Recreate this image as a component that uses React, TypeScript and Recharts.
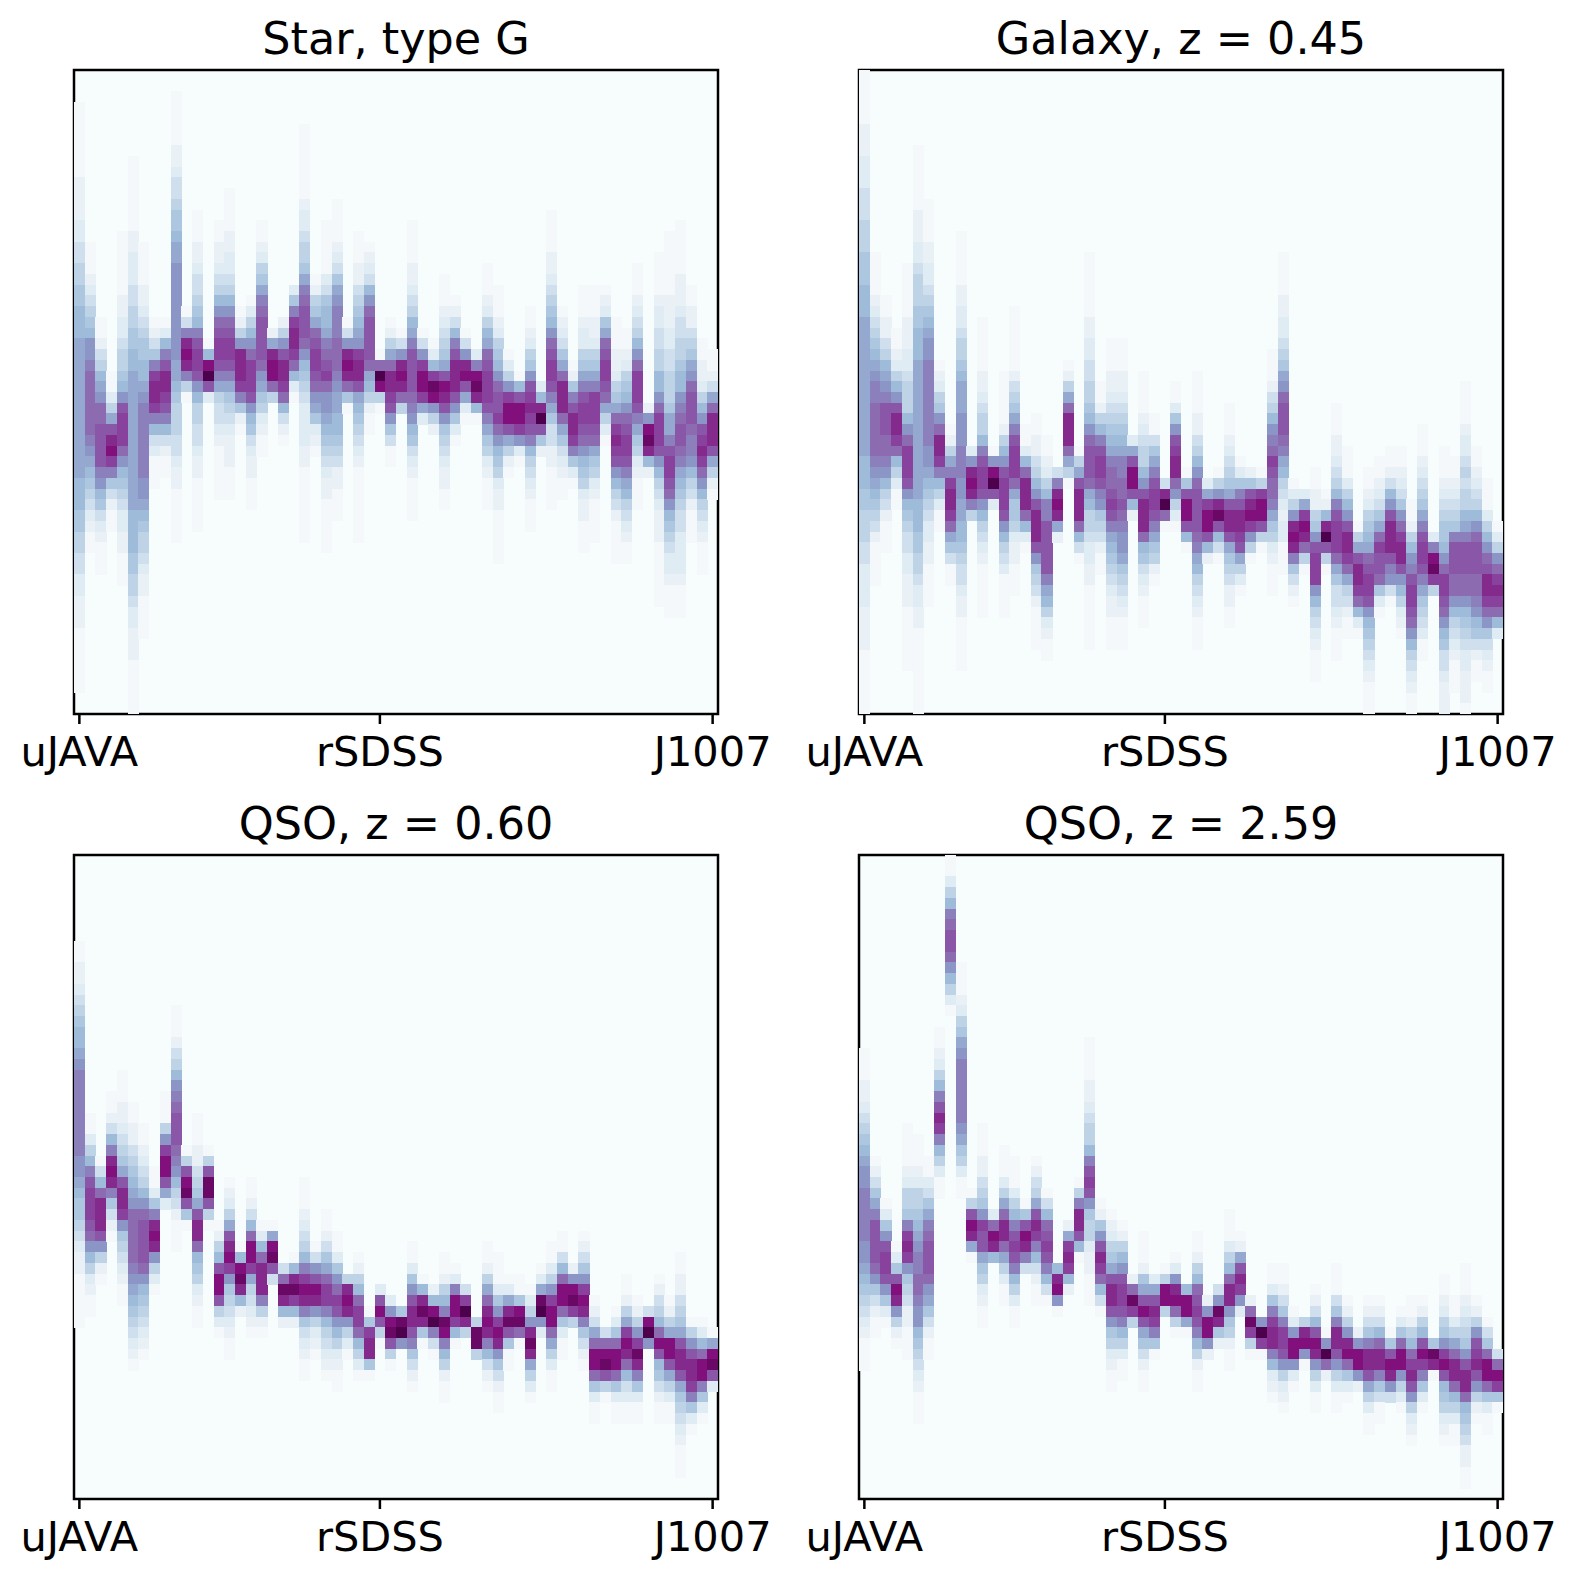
import { CartesianGrid, ReferenceArea, Scatter, ScatterChart, XAxis, YAxis } from "recharts";

type Col = [number, string];

// BuPu shades, index = digit used in the column strings below (base 18)
const shades = [
  "#f7fcfd", "#f4f8fb", "#e9f1f7", "#e0ecf4", "#d0dfed", "#bfd3e6", "#aec7e0", "#9ebcda", "#95a9d0",
  "#8c96c6", "#8c80bc", "#8c6bb1", "#8a56a7", "#88419d", "#842a8d", "#810f7c", "#6a0865", "#4d004b",
];

const tickValues = [0, 28, 59];
const tickNames = ["uJAVA", "rSDSS", "J1007"];

// each column: first non-empty row (from the top), then the shade of each row going down
const starG: Col[] = [
  [3, "1111111222233445566777888888888888877766554433222111111"],
  [16, "11123456799abbbbbba9876543211"],
  [23, "11245789bbcccca976432111"],
  [28, "11358cefda64211"],
  [15, "1111112233455679cdddb976543322111"],
  [8, "1111111223334455667788888888888887777665543322211111"],
  [16, "111122345667789aaaaaaa998765543221111"],
  [23, "1246adeeda743111"],
  [23, "137aceedca74211"],
  [2, "111112234456678899999999988765554432211111"],
  [22, "14aefea51"],
  [13, "11122344567acddc97554432211111"],
  [25, "17fhc3"],
  [14, "112234579bcddca85443211111"],
  [11, "111122334579bcddca86543222111"],
  [22, "1259eeeda621"],
  [21, "13579bdddc9764322111"],
  [14, "1123568abccccb98653211"],
  [24, "28effb5"],
  [23, "259ceedb7421"],
  [20, "36adeedb731"],
  [5, "111111123345568abcccb976543333221111111"],
  [19, "12568bcddcb986321"],
  [14, "11111346778abcdb998765432211111"],
  [12, "1111234689aaabbba9887765422111"],
  [23, "149efeb61"],
  [15, "11122456789deec87654321111111"],
  [16, "123479bccccb875211"],
  [26, "1bhf51"],
  [23, "1258beedc96411"],
  [24, "149efeb5"],
  [14, "11112234578accccba9764321111"],
  [24, "149dffd83"],
  [25, "137dgf952"],
  [19, "111234568cfec965432211"],
  [21, "1247aceeec9631"],
  [24, "149efc831"],
  [26, "3afge71"],
  [18, "11123578bcdddca86532111"],
  [20, "111235679bccdb976532211111"],
  [26, "1359dffc8521"],
  [28, "17cffd931"],
  [22, "1123569cdedca75432111"],
  [29, "37ehc62"],
  [13, "111122345679bcddca8644221111"],
  [22, "123468beeeb8643211"],
  [27, "126aceeda631"],
  [20, "111233568acddcb9765322111"],
  [20, "111223568adddcb865321111"],
  [20, "12368bcddcb8531"],
  [23, "111223568bdedc975421111"],
  [24, "11235679bcddca87543211"],
  [18, "111234579bdddca86532111"],
  [31, "29fge72"],
  [17, "11112334455779bdddc97543222111111"],
  [15, "1111112223344555688acddcb97654332111"],
  [14, "11111222344556779abccba87654433332111"],
  [20, "112245689bcccbaa97542111"],
  [25, "11223579cdedb975432111"],
  [26, "11248beeec8521"],
];

const galaxy: Col[] = [
  [0, "111112223334445556667778888888888888777665554433332222111111"],
  [17, "111123456789aabbbbba98765421111"],
  [21, "112245789acccbba97542111"],
  [24, "1123579ceedb75311"],
  [18, "1111122233455579bdddc97654433222111111"],
  [7, "11111122233455566777888888888888877766554332211111111"],
  [12, "111122334567899aaaaaaaa998765433221111"],
  [27, "123569beeda75311"],
  [33, "1258adeedb86411"],
  [15, "11111223345567888999aaa998877654432211111"],
  [35, "39efea5"],
  [23, "111112234557acddc97543211111"],
  [35, "19fhc3"],
  [28, "111112579cdddc975431111"],
  [22, "11111124568acdddb8665322111"],
  [33, "1137beeeb731"],
  [32, "11224579ceeec965421111"],
  [34, "112357aaccccca8753211"],
  [37, "4aefe82"],
  [27, "1258beeeb851"],
  [35, "158ceeeb741"],
  [17, "11111122334455679bcccb875543322111111"],
  [29, "11257acddca9654211"],
  [25, "11122345678abbcdca87654322111"],
  [25, "11122345678aabbcba99865432111"],
  [34, "38cffc72"],
  [28, "11112345579ceeeb76432111"],
  [32, "11468acddca86521"],
  [38, "4ehb1"],
  [29, "11369cdeeb9531"],
  [37, "16cffc71"],
  [28, "1111224579bccccba875432111"],
  [38, "38dffc72"],
  [37, "159egc741"],
  [31, "111234568ceec86542211"],
  [36, "136aceedc8531"],
  [37, "26cefd951"],
  [37, "15dffc51"],
  [26, "11124579abdcbba86532111"],
  [17, "1111223345689bcccba87543233111"],
  [38, "1359efea6421"],
  [39, "38dfeb51"],
  [37, "1122569cddd975432111"],
  [39, "127ehc51"],
  [31, "111223457acdddb864432111"],
  [35, "1113579ceedb854211"],
  [42, "158ceedb731"],
  [37, "11235678bcddc9765432111"],
  [36, "1123468bdccb631"],
  [35, "112479ceeeca941"],
  [35, "1123469bdeec975321"],
  [40, "112579acddcb97543211"],
  [33, "111234568acddca8654311"],
  [43, "3afgd5"],
  [35, "11123456679bddcb976443222"],
  [36, "1123456acccbb975432111"],
  [29, "11112334545578acccbb97654332221"],
  [35, "11234579bcccbba9764211"],
  [38, "1113579bceedb9643211"],
  [42, "1359bdedb73"],
];

const qso060: Col[] = [
  [8, "112234567789aaaaaaaa9987665432211111"],
  [24, "11357acdddcb9753211"],
  [28, "147beeec9521"],
  [22, "11247aefea6421"],
  [20, "1112234568ceed96543211"],
  [23, "1122456789bbbbba987654321"],
  [25, "11234579bccccb97654321"],
  [29, "1136aefe9531"],
  [22, "11159dffc83"],
  [14, "11124579abcccba97542111"],
  [27, "15cfgc61"],
  [24, "111224568ceeb7653211"],
  [27, "15cggc51"],
  [34, "1257cffc531"],
  [30, "12358cefd96543211"],
  [36, "17fge72"],
  [30, "11247bffd854321"],
  [34, "137beeea521"],
  [34, "18fgc4"],
  [38, "4bge72"],
  [37, "17egd72"],
  [30, "11123457adfea643211"],
  [36, "149cfe95321"],
  [33, "112468bdda754321"],
  [35, "11369bdc9753211"],
  [39, "5efe9531"],
  [37, "1257bddb7531"],
  [42, "16dee61"],
  [40, "3cfc51"],
  [41, "39fgc51"],
  [42, "6gh9"],
  [36, "11369ceeca6421"],
  [39, "17ege61"],
  [40, "27fha41"],
  [37, "11257agfa75211"],
  [38, "13affd71"],
  [40, "4dhe5"],
  [43, "5gg5"],
  [36, "11258befea7421"],
  [37, "111369dfe964211"],
  [39, "138egc611"],
  [39, "116fgb1"],
  [40, "1359ege8531"],
  [38, "138gh93"],
  [36, "11359dffb85311"],
  [35, "1147bffb6311"],
  [38, "29fgd5"],
  [35, "12469dfea6421"],
  [41, "1248bffb6311"],
  [44, "4bfgc51"],
  [42, "136bffb6311"],
  [39, "11258dfeb74311"],
  [41, "1259dgea6311"],
  [42, "4fh9"],
  [39, "12457bfc764211"],
  [41, "1258ffc85311"],
  [37, "11224568ceec865432111"],
  [43, "159ceeda631"],
  [43, "137bffa631"],
  [44, "18fgc3"],
];

const qso259: Col[] = [
  [18, "1112234567899aaaaa998765432111"],
  [28, "12468accccb964211"],
  [32, "1369cddc9631"],
  [36, "136cfe9521"],
  [25, "111123556aded965422111"],
  [26, "11123556789aabba99765432111"],
  [28, "113468abcccb9864211"],
  [16, "112357aceda75311"],
  [0, "11357abccb97531"],
  [10, "111235689aaaaaa9865311"],
  [31, "15cfe81"],
  [25, "111224569dcc8653211"],
  [33, "3bfe7"],
  [27, "111358beeb85311"],
  [28, "111357acdca75311"],
  [32, "16cfea4"],
  [28, "12458ceda74211"],
  [31, "147bcdca741"],
  [38, "7ef91"],
  [34, "28ded72"],
  [30, "15aeec71"],
  [17, "11112234557acdc9655322111"],
  [32, "1269cedb741"],
  [33, "123568ceec9653211"],
  [34, "12579cddca75311"],
  [39, "2bgd5"],
  [35, "111268cfc864211"],
  [39, "38ceda61"],
  [38, "15ff5"],
  [37, "139efb51"],
  [40, "7ff81"],
  [35, "11257bcdca75211"],
  [41, "29ff92"],
  [40, "49ge62"],
  [33, "111357bee965211"],
  [35, "128ced93"],
  [41, "2bgd51"],
  [43, "9hd1"],
  [38, "1136adeea7321"],
  [38, "11246addc95321"],
  [42, "139ff931"],
  [43, "5ef91"],
  [40, "1247cfe95311"],
  [44, "19hb2"],
  [38, "11146aeec95311"],
  [41, "1259efb631"],
  [44, "29ff92"],
  [41, "1246aeec85311"],
  [41, "1247beea6411"],
  [44, "16cfe94"],
  [42, "136bff9531"],
  [41, "11257bdec95321"],
  [41, "1257cfda631"],
  [45, "6ge1"],
  [39, "1123569dfc765321"],
  [41, "11358beeb75311"],
  [38, "111234569ceeb76542211"],
  [41, "1259cdec9521"],
  [43, "146bffb6311"],
  [46, "4bfd61"],
];

const CELL = 644 / 60;

const toCells = (cols: Col[]) =>
  cols.flatMap(([start, run], x) => [...run].map((ch, i) => ({ x, y: start + i, v: parseInt(ch, 18) })));

const HeatCell = (props: any) => (
  <rect
    x={props.cx - CELL / 2}
    y={props.cy - CELL / 2}
    width={CELL + 0.3}
    height={CELL + 0.3}
    fill={shades[props.payload.v]}
    shapeRendering="crispEdges"
  />
);

const font = "DejaVu Sans";

function Panel({ title, cols, left, top }: { title: string; cols: Col[]; left: number; top: number }) {
  return (
    <div style={{ position: "absolute", left, top }}>
      <ScatterChart width={785} height={785} margin={{ left: 74, top: 70, right: 67, bottom: 0 }}>
        <CartesianGrid horizontal={false} vertical={false} fill={shades[0]} />
        <XAxis
          type="number"
          dataKey="x"
          domain={[-0.5, 59.5]}
          ticks={tickValues}
          interval={0}
          allowDataOverflow
          height={71}
          tickSize={10}
          tickMargin={13}
          tickFormatter={(v: number) => tickNames[tickValues.indexOf(v)]}
          tick={{ fontSize: 41.5, fill: "#000", fontFamily: font }}
          tickLine={{ stroke: "#000", strokeWidth: 2.5 }}
          axisLine={false}
        />
        <YAxis type="number" dataKey="y" domain={[-0.5, 59.5]} reversed allowDataOverflow hide />
        <Scatter data={toCells(cols)} shape={HeatCell} isAnimationActive={false} />
        <ReferenceArea x1={-0.5} x2={59.5} y1={-0.5} y2={59.5} fill="none" stroke="#000" strokeWidth={2.5} ifOverflow="visible" />
        <text x={396} y={54} textAnchor="middle" fontSize={44.5} fontFamily={font} fill="#000">
          {title}
        </text>
      </ScatterChart>
    </div>
  );
}

export default function App() {
  return (
    <div style={{ position: "absolute", left: 0, top: 0, width: 1576, height: 1580, background: "#fff" }}>
      <Panel title="Star, type G" cols={starG} left={0} top={0} />
      <Panel title="Galaxy, z = 0.45" cols={galaxy} left={785} top={0} />
      <Panel title="QSO, z = 0.60" cols={qso060} left={0} top={785} />
      <Panel title="QSO, z = 2.59" cols={qso259} left={785} top={785} />
    </div>
  );
}
